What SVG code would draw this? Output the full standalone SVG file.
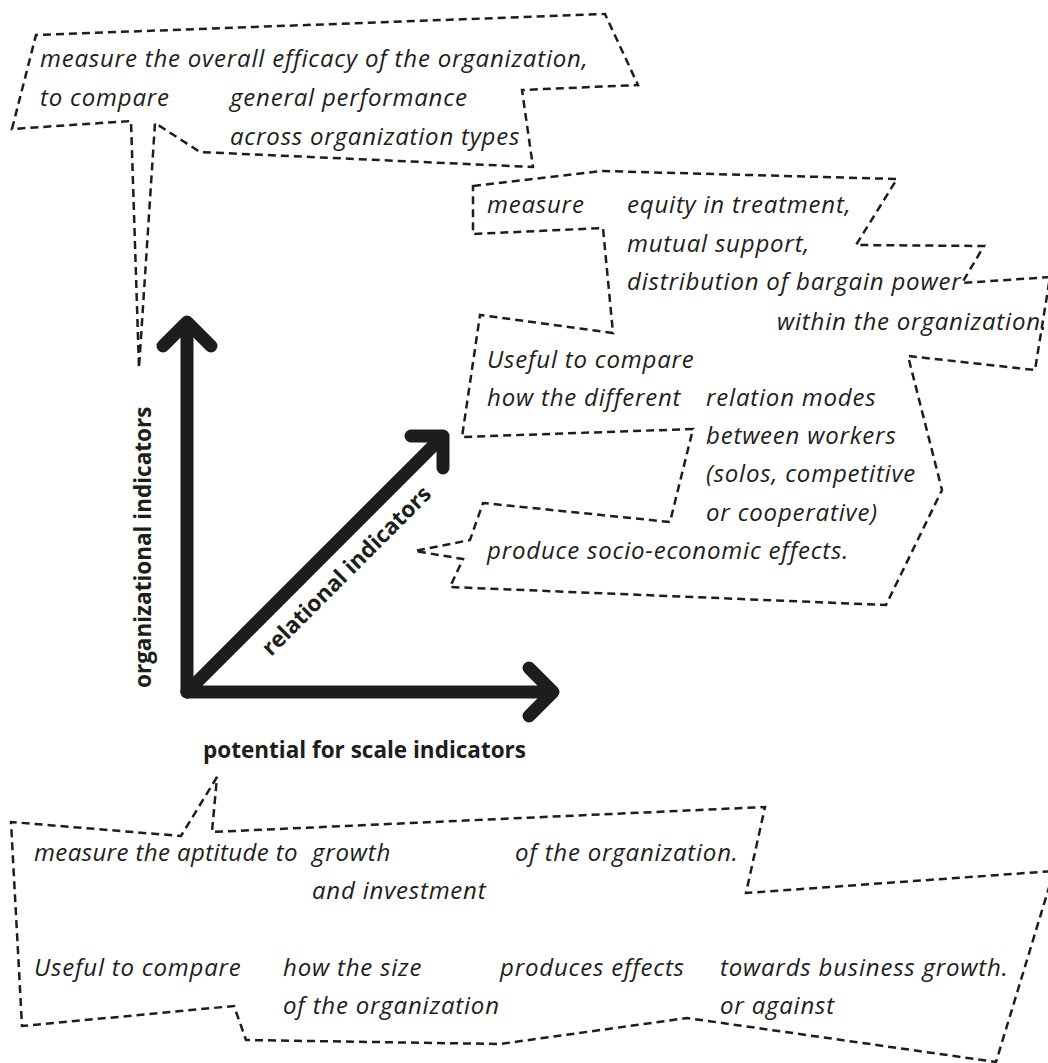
<svg xmlns="http://www.w3.org/2000/svg" width="1048" height="1063" viewBox="0 0 1048 1063">
<style>
.bg{fill:#ffffff}
.callout{fill:none;stroke:#1d1d1b;stroke-width:2.5;stroke-dasharray:8 5;stroke-linejoin:miter}
.t{font-family:"Open Sans","Noto Sans","DejaVu Sans",sans-serif;font-style:italic;font-size:24px;letter-spacing:0.8px;fill:#1d1d1b}
.b{font-family:"Open Sans","Noto Sans","DejaVu Sans",sans-serif;font-weight:bold;font-size:22.5px;fill:#1d1d1b}
.axis{fill:none;stroke:#1d1d1b;stroke-width:13;stroke-linecap:round;stroke-linejoin:round}
</style>
<rect class="bg" x="0" y="0" width="1048" height="1063"/>

<g id="connectors">
  <g id="axis-organizational">
    <line class="axis" x1="187" y1="692" x2="187" y2="324"/>
    <polyline class="axis" points="163,346 187,322 211,346"/>
  </g>
  <g id="axis-scale">
    <line class="axis" x1="187" y1="692" x2="551" y2="692"/>
    <polyline class="axis" points="529,668 553,692 529,716"/>
  </g>
  <g id="axis-relational">
    <line class="axis" x1="187" y1="692" x2="441" y2="438"/>
    <polyline class="axis" points="411,436 443,436 443,468"/>
  </g>
</g>

<g id="label-organizational">
  <text class="b" transform="translate(151,688) rotate(-90)">organizational indicators</text>
</g>
<g id="label-relational">
  <text class="b" transform="translate(271,657) rotate(-45)">relational indicators</text>
</g>
<g id="label-scale">
  <text class="b" x="203" y="758">potential for scale indicators</text>
</g>

<g id="callout-organizational">
  <polygon class="callout" points="12,129 36,35 605,14 638,85 522,90 533,167 200,152 155,123 139,368 131,121"/>
  <text class="t" x="40" y="67">measure the overall efficacy of the organization,</text>
  <text class="t" x="40" y="106">to compare</text>
  <text class="t" x="230" y="106">general performance</text>
  <text class="t" x="230" y="145">across organization types</text>
</g>

<g id="callout-relational">
  <polygon class="callout" points="473,186 602,171 897,179 856,245 984,246 962,283 1050,277 1035,370 908,356 942,490 886,605 450,587 463,559 415,551 470,540 483,503 670,522 693,429 462,437 480,315 613,333 603,228 473,234"/>
  <text class="t" x="487" y="213">measure</text>
  <text class="t" x="627" y="213">equity in treatment,</text>
  <text class="t" x="627" y="252">mutual support,</text>
  <text class="t" x="627" y="290">distribution of bargain power</text>
  <text class="t" x="777" y="330">within the organization.</text>
  <text class="t" x="487" y="368">Useful to compare</text>
  <text class="t" x="487" y="406">how the different</text>
  <text class="t" x="706" y="406">relation modes</text>
  <text class="t" x="706" y="444">between workers</text>
  <text class="t" x="706" y="482">(solos, competitive</text>
  <text class="t" x="706" y="521">or cooperative)</text>
  <text class="t" x="487" y="559">produce socio-economic effects.</text>
</g>

<g id="callout-scale">
  <polygon class="callout" points="217,777 181,836 11,822 22,1026 234,1006 246,1040 500,1044 687,1018 996,1062 1054,871 746,893 765,807 212,832"/>
  <text class="t" x="34" y="861" style="letter-spacing:0.4px">measure the aptitude to</text>
  <text class="t" x="312" y="861">growth</text>
  <text class="t" x="515" y="861">of the organization.</text>
  <text class="t" x="312" y="899">and investment</text>
  <text class="t" x="34" y="976">Useful to compare</text>
  <text class="t" x="283" y="976">how the size</text>
  <text class="t" x="500" y="976">produces effects</text>
  <text class="t" x="720" y="976">towards business growth.</text>
  <text class="t" x="283" y="1014">of the organization</text>
  <text class="t" x="720" y="1014">or against</text>
</g>
</svg>
